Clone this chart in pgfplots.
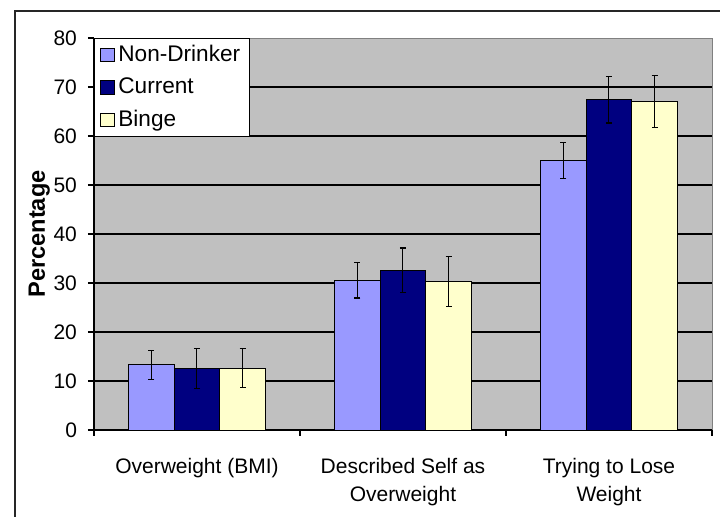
\documentclass[border=0pt]{standalone}
\usepackage{pgfplots}
\pgfplotsset{compat=1.18}
\usepackage{pgfplotstable}
\usepackage{fontspec}
\setmainfont{Liberation Sans}
\definecolor{plotgray}{HTML}{C0C0C0}
\definecolor{nondr}{HTML}{9999FF}
\definecolor{curr}{HTML}{000080}
\definecolor{binge}{HTML}{FFFFCC}

\pgfplotstableread{
x  nd   nde  cu   cue  bi   bie
0.5 13.3 3.0  12.6 4.1  12.6 4.0
1.5 30.6 3.65 32.6 4.55 30.3 5.05
2.5 55.0 3.65 67.4 4.75 67.0 5.3
}\datatable

\begin{document}
\begin{tikzpicture}
\path[use as bounding box] (-47pt,-43.5pt) rectangle (313pt,215pt);
\draw[line width=0.8pt, black!85] (-39.5pt,-50pt) -- (-39.5pt,209.5pt) -- (320pt,209.5pt);
\begin{axis}[
  at={(0,0)}, anchor=origin,
  scale only axis,
  width=309pt, height=196pt,
  xmin=0, xmax=3, ymin=0, ymax=80,
  axis background/.style={fill=plotgray, draw=gray},
  axis x line*=bottom, axis y line*=left,
  axis line style={black, line width=0.6pt, -},
  xtick={0,1,2,3}, xticklabels={},
  ytick={0,10,...,80},
  extra y ticks={10,20,...,70},
  extra y tick labels={},
  extra y tick style={grid=major, major tick length=0pt},
  major grid style={black, line width=0.6pt},
  extra x ticks={0.5,1.5,2.5},
  extra x tick labels={Overweight (BMI),Described Self as\\Overweight,Trying to Lose\\Weight},
  extra x tick style={major tick length=0pt, tick label style={yshift=-10.5pt}},
  tick align=outside,
  major tick length=3pt,
  tick style={black, line width=0.6pt},
  xticklabel style={align=center, font=\fontsize{10.5}{14.3}\selectfont},
  yticklabel style={font=\fontsize{10.5}{12}\selectfont, xshift=-2pt},
  /pgf/number format/assume math mode=true,
  ylabel={Percentage},
  ylabel style={font=\bfseries\fontsize{11.8}{13}\selectfont, yshift=-8pt},
  ybar=0pt,
  bar width=0.222,
  legend cell align=left,
  legend style={at={(0,1)}, anchor=north west, draw=black, fill=white,
    font=\fontsize{11.3}{12.5}\selectfont, row sep=2.6pt, inner xsep=3pt, inner ysep=1.5pt,
    nodes={inner xsep=1.8pt}},
  legend image code/.code={\draw[#1, draw=black, line width=0.4pt] (0pt,-3.3pt) rectangle (6.8pt,3.3pt);},
  error bars/error bar style={black, line width=0.5pt},
  error bars/error mark options={rotate=90, mark size=1.6pt, black, line width=0.6pt},
]
\addplot[fill=nondr, draw=black, line width=0.4pt, bar shift=-0.222,
  error bars/.cd, y dir=both, y explicit]
  table[x=x, y=nd, y error=nde] {\datatable};
\addplot[fill=curr, draw=black, line width=0.4pt, bar shift=0,
  error bars/.cd, y dir=both, y explicit]
  table[x=x, y=cu, y error=cue] {\datatable};
\addplot[fill=binge, draw=black, line width=0.4pt, bar shift=0.222,
  error bars/.cd, y dir=both, y explicit]
  table[x=x, y=bi, y error=bie] {\datatable};
\legend{Non-Drinker, Current, Binge}
\end{axis}
\end{tikzpicture}
\end{document}
